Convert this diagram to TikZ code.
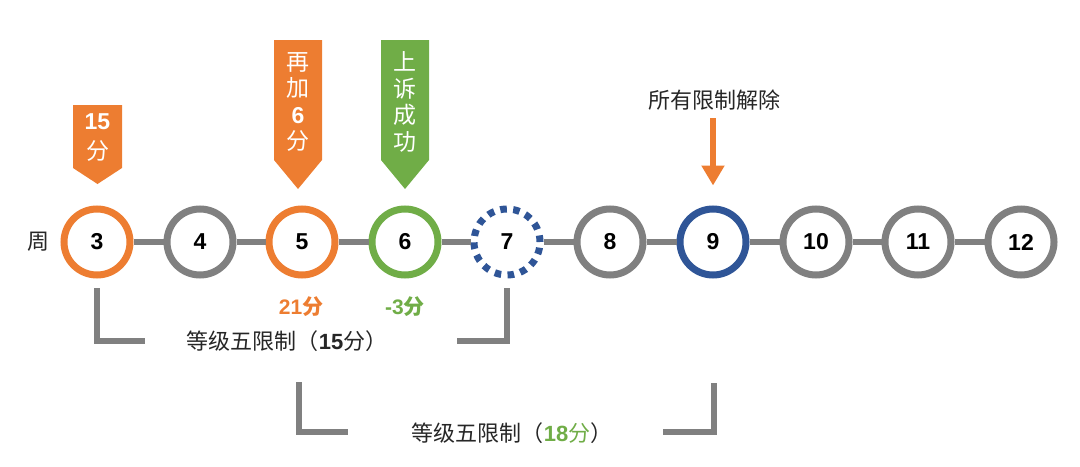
\documentclass[tikz,border=0pt]{standalone}
\usepackage{fontspec}
\setmainfont{Liberation Sans}
\newfontfamily\cjk{Noto Sans CJK SC}
\usetikzlibrary{arrows.meta}

\definecolor{WeekOrange}{RGB}{237,125,49}
\definecolor{WeekGreen}{RGB}{112,173,71}
\definecolor{WeekBlue}{RGB}{47,85,151}
\definecolor{WeekGrey}{RGB}{128,128,128}

\newcommand{\num}[1]{{\normalfont\bfseries #1}}

\tikzset{
  week/.style={draw=WeekGrey, circle, line width=3.5pt, minimum size=33pt, inner sep=0pt, fill=white, font=\bfseries\fontsize{11.5}{13}\selectfont},
  link/.style={WeekGrey, line width=3.3pt},
  bracket/.style={WeekGrey, line width=3pt},
  tag/.style={text=white, align=center, font=\cjk\fontsize{11.5}{13.3}\selectfont},
  cjklabel/.style={font=\cjk\fontsize{11}{13}\selectfont, text=black!85},
  score/.style={font=\bfseries\fontsize{10.5}{12}\selectfont},
}

\begin{document}
\begin{tikzpicture}[x=0.5pt, y=-0.5pt]
\useasboundingbox (0,0) rectangle (1080,466);

% Weeks
\node[cjklabel] (zhou) at (38,242) {周};
\node[week, draw=WeekOrange] (c3) at (97,242) {3};
\node[week] (c4) at (200,242) {4};
\node[week, draw=WeekOrange] (c5) at (302,242) {5};
\node[week, draw=WeekGreen] (c6) at (405,242) {6};
\node[week, draw=WeekBlue, dash pattern=on 3.3pt off 3.2pt] (c7) at (507,242) {7};
\node[week] (c8) at (610,242) {8};
\node[week, draw=WeekBlue] (c9) at (713,242) {9};
\node[week] (c10) at (816,242) {10};
\node[week] (c11) at (918,242) {11};
\node[week] (c12) at (1021,242) {12};

% Connecting lines
\draw[link] (c3) -- (c4);
\draw[link] (c4) -- (c5);
\draw[link] (c5) -- (c6);
\draw[link] (c6) -- (c7);
\draw[link] (c7) -- (c8);
\draw[link] (c8) -- (c9);
\draw[link] (c9) -- (c10);
\draw[link] (c10) -- (c11);
\draw[link] (c11) -- (c12);

% Callouts
\fill[WeekOrange] (73,105) -- (122,105) -- (122,168) -- (97.5,184) -- (73,168) -- cycle;
\node[tag, font=\cjk\fontsize{11.5}{15}\selectfont] (t3) at (97.5,138) {\num{15}\\分};
\fill[WeekOrange] (274,40) -- (322,40) -- (322,160) -- (298,189) -- (274,160) -- cycle;
\node[tag] (t5) at (298,102) {再\\加\\\num{6}\\分};
\fill[WeekGreen] (381,40) -- (429,40) -- (429,160) -- (405,189) -- (381,160) -- cycle;
\node[tag] (t6) at (405,102) {上\\诉\\成\\功};

% Scores
\node[score, text=WeekOrange] (s5) at (301,307) {21{\cjk 分}};
\node[score, text=WeekGreen] (s6) at (405,307) {-3{\cjk 分}};

% Limits
\draw[bracket] (96.5,288) |- (145,341);
\draw[bracket] (507,288) |- (457,341);
\node[cjklabel] (lim15) at (287,341) {等级五限制（\num{15}分）};
\draw[bracket] (298.5,382) |- (348,432);
\draw[bracket] (714,383) |- (663,432);
\node[cjklabel] (lim18) at (512,433) {等级五限制（\textcolor{WeekGreen}{\num{18}分}）};

% Release
\node[cjklabel] (free) at (714,100) {所有限制解除};
\coordinate (arrtop) at (713,118);
\draw[WeekOrange, line width=3pt, -{Triangle[width=11pt,length=10pt]}, shorten >=10pt] (arrtop) -- (c9.north);
\end{tikzpicture}
\end{document}
